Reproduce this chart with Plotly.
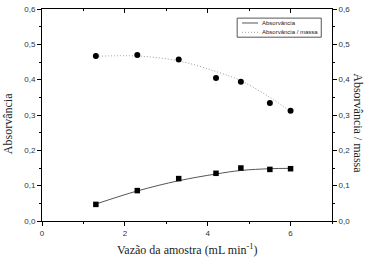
import plotly.graph_objects as go

x_vals = [1.3, 2.3, 3.3, 4.2, 4.8, 5.5, 6.0]
absorv = [0.047, 0.086, 0.120, 0.135, 0.150, 0.146, 0.148]
absorv_massa = [0.467, 0.470, 0.457, 0.405, 0.394, 0.334, 0.312]
fit_absorv = [0.048, 0.085, 0.114, 0.133, 0.143, 0.148, 0.149]
fit_massa = [0.466, 0.467, 0.453, 0.423, 0.397, 0.350, 0.310]

x_ticks = [0, 2, 4, 6]
y_ticks = [0.0, 0.1, 0.2, 0.3, 0.4, 0.5, 0.6]
y_labels = ["0,0", "0,1", "0,2", "0,3", "0,4", "0,5", "0,6"]
legend_names = ["Absorvância", "Absorvância / massa"]

tick_font = dict(family="Liberation Sans, Arial", size=8, color="#333")
title_font = dict(family="Liberation Serif, Times New Roman", size=12, color="#222")

fig = go.Figure()
fig.add_trace(go.Scatter(x=x_vals, y=fit_absorv, mode="lines", name=legend_names[0],
                         line=dict(color="#555", width=1, shape="spline")))
fig.add_trace(go.Scatter(x=x_vals, y=fit_massa, mode="lines", name=legend_names[1],
                         line=dict(color="#999", width=1, dash="1px,2px", shape="spline")))
fig.add_trace(go.Scatter(x=x_vals, y=absorv, mode="markers",
                         marker=dict(symbol="square", size=5.5, color="black")))
fig.add_trace(go.Scatter(x=x_vals, y=absorv_massa, mode="markers",
                         marker=dict(symbol="circle", size=6, color="black")))
fig.add_trace(go.Scatter(x=[0], y=[0], xaxis="x2", yaxis="y2", mode="markers",
                         marker=dict(opacity=0), hoverinfo="skip"))

axis_common = dict(showgrid=False, zeroline=False, showline=True, linecolor="black",
                   linewidth=1, ticklen=4, tickcolor="black", tickfont=tick_font,
                   automargin=False)

fig.update_layout(
    width=370, height=263,
    margin=dict(l=42, r=38, t=9, b=42),
    paper_bgcolor="white", plot_bgcolor="white",
    showlegend=False,
    xaxis=dict(range=[0, 7], tickvals=x_ticks, ticks="outside",
               minor=dict(dtick=1, ticks="outside", ticklen=2, tickcolor="black"),
               **axis_common),
    xaxis2=dict(range=[0, 7], overlaying="x", side="top", tickvals=x_ticks, ticks="inside",
                showticklabels=False,
                minor=dict(dtick=1, ticks="inside", ticklen=2, tickcolor="black"),
                **axis_common),
    yaxis=dict(range=[0, 0.6], tickvals=y_ticks, ticktext=y_labels, ticks="outside",
               minor=dict(dtick=0.05, ticks="outside", ticklen=2, tickcolor="black"),
               **axis_common),
    yaxis2=dict(range=[0, 0.6], overlaying="y", side="right", tickvals=y_ticks, ticktext=y_labels,
                ticks="outside",
                minor=dict(dtick=0.05, ticks="outside", ticklen=2, tickcolor="black"),
                **axis_common),
)

# axis titles
fig.add_annotation(text="Vazão da amostra (mL min<sup>-1</sup>)", xref="paper", yref="paper",
                   x=0.5, y=-0.135, xanchor="center", yanchor="middle", showarrow=False,
                   font=title_font)
fig.add_annotation(text="Absorvância", xref="paper", yref="paper", x=-0.115, y=0.46,
                   xanchor="center", yanchor="middle", textangle=-90, showarrow=False,
                   font=title_font)
fig.add_annotation(text="Absorvância / massa", xref="paper", yref="paper", x=1.087, y=0.46,
                   xanchor="center", yanchor="middle", textangle=90, showarrow=False,
                   font=title_font)

# legend box (drawn manually to match the compact original)
fig.add_shape(type="rect", xref="paper", yref="paper", x0=0.673, x1=0.963, y0=0.867, y1=0.957,
              line=dict(color="#555", width=1), fillcolor="white")
fig.add_shape(type="line", xref="paper", yref="paper", x0=0.69, x1=0.745, y0=0.934, y1=0.934,
              line=dict(color="#555", width=1))
fig.add_shape(type="line", xref="paper", yref="paper", x0=0.69, x1=0.745, y0=0.89, y1=0.89,
              line=dict(color="#999", width=1, dash="1px,2px"))
for i, name in enumerate(legend_names):
    fig.add_annotation(text=name, xref="paper", yref="paper", x=0.752, y=[0.934, 0.89][i],
                       xanchor="left", yanchor="middle", showarrow=False,
                       font=dict(family="Liberation Sans, Arial", size=6, color="#222"))

fig.write_html("out.html", config={"displayModeBar": False},
               post_script="document.body.style.margin='0';")
